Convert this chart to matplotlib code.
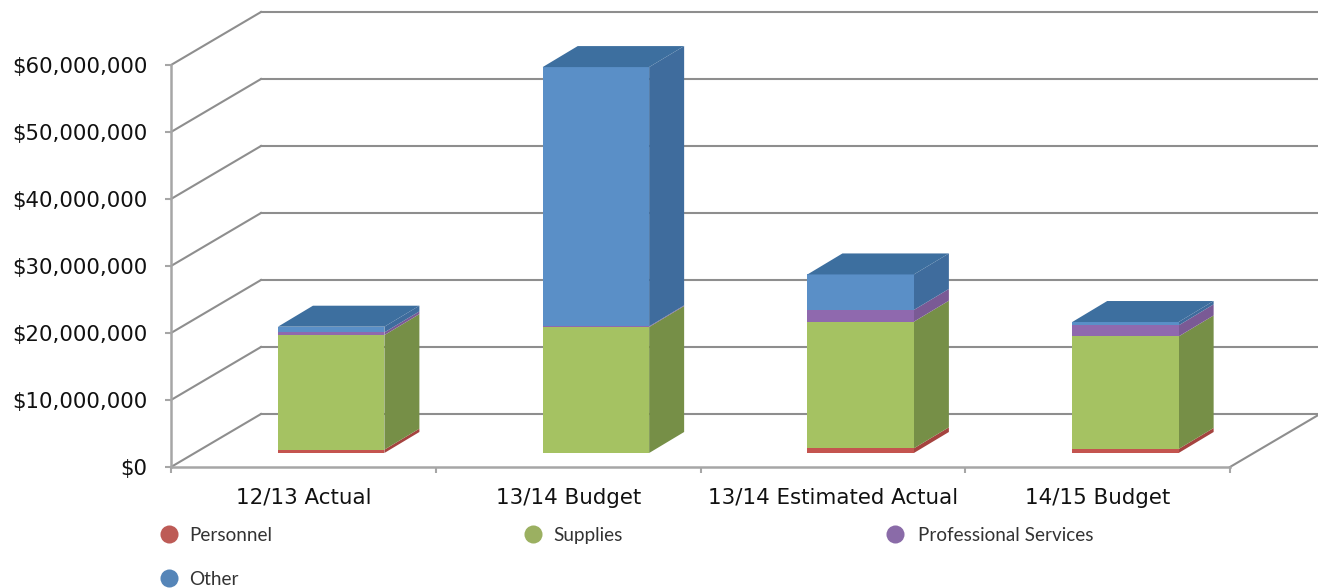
#!/usr/bin/python3

import matplotlib
matplotlib.use("Agg")
import matplotlib.pyplot as plt
from matplotlib.lines import Line2D
from matplotlib.patches import Polygon
import numpy as np

categories = ["12/13 Actual", "13/14 Budget", "13/14 Estimated Actual", "14/15 Budget"]
series_names = ["Personnel", "Supplies", "Professional Services", "Other"]

# millions of dollars
personnel = [0.5, 0.0, 0.7, 0.6]
supplies = [17.1, 18.8, 18.9, 16.8]
professional = [0.4, 0.1, 1.75, 1.65]
other = [0.85, 38.7, 5.3, 0.5]

y_ticks = [0, 10, 20, 30, 40, 50, 60]

W, H = 1318, 588
fig = plt.figure(figsize=(W / 100, H / 100), dpi=100)
ax = fig.add_axes([171 / W, 1 - 467 / H, (1230 - 171) / W, (467 - 65) / H])
ax.set_xlim(0, 4)
ax.set_ylim(0, 60)

# 3d look: how far the back wall and the bars are pushed, in data units
wall_dx, wall_dy = 90 / 264.75, 53 / 6.7
bar_dx, bar_dy = 35 / 264.75, 21 / 6.7
bar_x0, bar_y0 = 0.404, 14 / 6.7
bar_w = 0.402

grid_col = "#8e8e8e"
front_cols = ["#c4544f", "#a5c262", "#8f69ae", "#5a8fc7"]
side_cols = ["#a5433f", "#768f47", "#7a5a95", "#3f6c9d"]
top_col = "#3d6f9f"

# walls
for v in y_ticks:
    ax.plot([0, wall_dx], [v, v + wall_dy], color=grid_col, lw=1.5, clip_on=False, zorder=1)
    ax.plot([wall_dx, 5], [v + wall_dy, v + wall_dy], color=grid_col, lw=1.5, clip_on=False, zorder=1)
ax.plot([4, 4 + wall_dx], [0, wall_dy], color=grid_col, lw=1.5, clip_on=False, zorder=1)

stack = np.array([personnel, supplies, professional, other])
x = np.arange(len(categories)) + bar_x0
bottom = np.full(len(categories), bar_y0)
for i in range(len(series_names)):
    ax.bar(x, stack[i], bottom=bottom, width=bar_w, align="edge", color=front_cols[i], lw=0, zorder=3)
    for j in range(len(categories)):
        r = x[j] + bar_w
        lo, hi = bottom[j], bottom[j] + stack[i][j]
        ax.add_patch(Polygon([(r, lo), (r + bar_dx, lo + bar_dy), (r + bar_dx, hi + bar_dy), (r, hi)],
                             closed=True, fc=side_cols[i], ec="none", zorder=2, clip_on=False))
    bottom = bottom + stack[i]
for j in range(len(categories)):
    t = bottom[j]
    ax.add_patch(Polygon([(x[j], t), (x[j] + bar_dx, t + bar_dy), (x[j] + bar_w + bar_dx, t + bar_dy), (x[j] + bar_w, t)],
                         closed=True, fc=top_col, ec="none", zorder=3, clip_on=False))

# axes
for s in ["top", "right"]:
    ax.spines[s].set_visible(False)
for s in ["left", "bottom"]:
    ax.spines[s].set_color("#a6a6a6")
    ax.spines[s].set_linewidth(1.8)
    ax.spines[s].set_zorder(1)
ax.set_yticks(y_ticks)
ax.set_yticklabels(["$%d" % (v * 1000000) if v == 0 else "${:,}".format(v * 1000000) for v in y_ticks])
ax.set_xticks(np.arange(5))
ax.set_xticklabels([])
ax.set_xticks(np.arange(4) + 0.5, minor=True)
ax.set_xticklabels(categories, minor=True)
ax.tick_params(axis="y", length=4, width=1.5, color="#a6a6a6", pad=13, labelsize=15.3, labelcolor="#111111")
ax.tick_params(axis="x", which="major", length=4, width=1.5, color="#a6a6a6")
ax.tick_params(axis="x", which="minor", length=0, pad=15, labelsize=15.4, labelcolor="#111111")
ax.patch.set_visible(False)

# legend
legend_cols = ["#bd5b56", "#9bb061", "#8a6ba8", "#5585b8"]
legend_dots = [(169, 534), (533, 534), (895, 534), (169, 578)]
legend_text_x = [189, 553, 918, 189]
for name, c, (px, py), tx in zip(series_names, legend_cols, legend_dots, legend_text_x):
    fig.add_artist(Line2D([px / W], [1 - py / H], marker="o", ms=13, mfc=c, mec="none", ls="none",
                          transform=fig.transFigure))
    fig.text(tx / W, 1 - (py + 7) / H, name, fontsize=13.6, family="Lato", color="#333333",
             va="baseline", ha="left")

fig.savefig("out.png", dpi=100)
